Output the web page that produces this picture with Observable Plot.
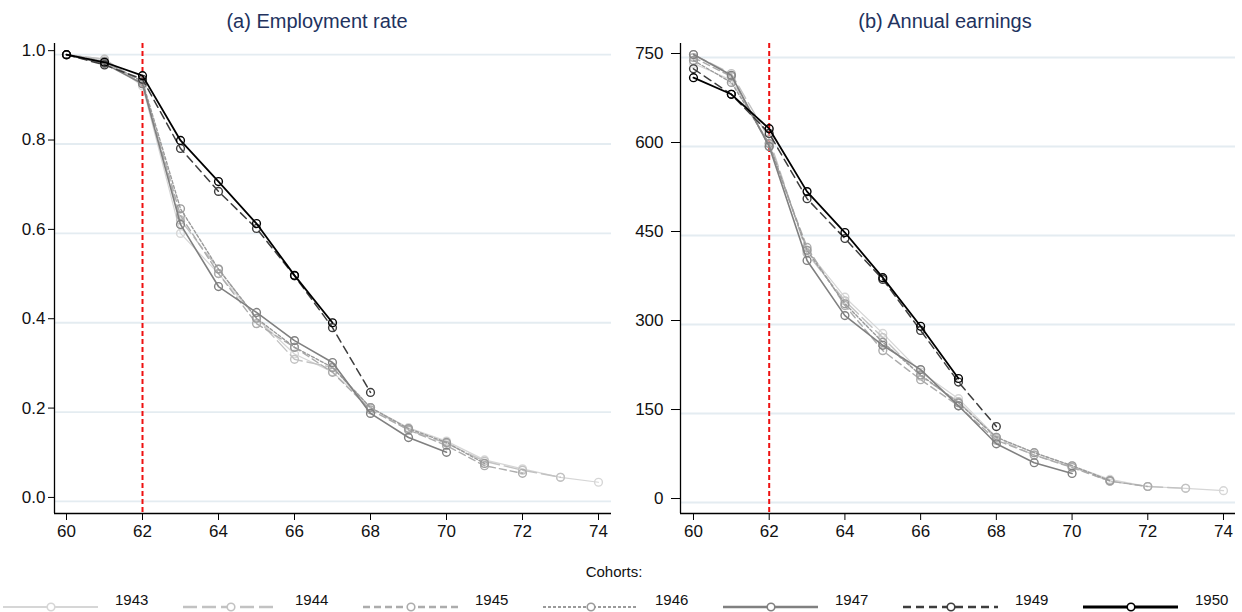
<!DOCTYPE html>
<html><head><meta charset="utf-8">
<script src="https://cdn.jsdelivr.net/npm/d3@7"></script>
<script src="https://cdn.jsdelivr.net/npm/@observablehq/plot@0.6"></script>
<style>
body{margin:0;background:#fff;font-family:"Liberation Sans",Arial,sans-serif;}
#wrap{position:relative;width:1242px;height:612px;}
.panel{position:absolute;top:0;width:621px;}
.title{position:absolute;top:9px;width:400px;font-size:20px;line-height:24px;color:#22325e;text-align:center;}
.plot{position:absolute;top:38px;left:0;}
.plot svg text{font-size:17px !important;font-family:"Liberation Sans",Arial,sans-serif !important;}
#legend{position:absolute;top:560px;left:0;width:1242px;height:52px;}
</style></head>
<body><div id="wrap">
<div class="panel" id="pa" style="left:0"></div>
<div class="panel" id="pb" style="left:621px"></div>
<div id="legend"></div>
</div>
<script>
// ---- data ----
const cohorts = ["1943","1944","1945","1946","1947","1949","1950"];
const ages = [60,61,62,63,64,65,66,67,68,69,70,71,72,73,74];
const emp1943 = [1.0,0.99,0.93,0.60,0.51,0.41,0.33,0.29,0.21,0.165,0.135,0.093,0.073,0.054,0.043];
const emp1944 = [1.0,0.99,0.935,0.63,0.52,0.41,0.318,0.30,0.21,0.16,0.13,0.09,0.07,0.054];
const emp1945 = [1.0,0.985,0.935,0.64,0.51,0.398,0.345,0.289,0.205,0.16,0.125,0.08,0.063];
const emp1946 = [1.0,0.985,0.94,0.655,0.52,0.41,0.345,0.30,0.21,0.163,0.132,0.085];
const emp1947 = [1.0,0.98,0.935,0.62,0.481,0.423,0.36,0.311,0.197,0.143,0.11];
const emp1949 = [1.0,0.977,0.945,0.79,0.694,0.611,0.505,0.389,0.244];
const emp1950 = [1.0,0.983,0.953,0.808,0.716,0.622,0.506,0.40];
const earn1943 = [740,712,605,425,346,285,220,175,110,84,62,39,27,24,20];
const earn1944 = [755,723,613,420,340,278,213,170,108,80,60,36,27,24];
const earn1945 = [750,718,600,430,332,256,207,163,105,80,59,36,27];
const earn1946 = [745,708,605,425,335,270,215,168,110,84,62,37];
const earn1947 = [755,720,600,408,315,265,224,163,99,67,49];
const earn1949 = [731,688,622,512,445,376,290,203,128];
const earn1950 = [716,688,630,524,455,379,297,209];
const empTicks = [0,0.2,0.4,0.6,0.8,1.0];
const earnTicks = [0,150,300,450,600,750];
const ageTicks = [60,62,64,66,68,70,72,74];
const reformAge = 62;

const empSeries = [emp1943,emp1944,emp1945,emp1946,emp1947,emp1949,emp1950];
const earnSeries = [earn1943,earn1944,earn1945,earn1946,earn1947,earn1949,earn1950];

// ---- styles ----
const styles = {
  "1943":{color:"#d6d6d6", w:1.2, dash:null, lw:2},
  "1944":{color:"#c2c2c2", w:1.4, dash:"14,5", lw:2.5},
  "1945":{color:"#acacac", w:1.4, dash:"7,4", lw:2.5},
  "1946":{color:"#9a9a9a", w:1.4, dash:"3,2", lw:2},
  "1947":{color:"#808080", w:1.6, dash:null, lw:2.5},
  "1949":{color:"#3d3d3d", w:1.5, dash:"8,5", lw:2.5},
  "1950":{color:"#000000", w:1.8, dash:null, lw:3}
};

function rows(series){
  return series.map((vals,i)=>vals.map((v,j)=>({cohort:cohorts[i], age:ages[j], v})));
}

function panel(el, title, series, opt){
  const data = rows(series);
  const marks = [
    Plot.gridY(opt.ticks, {stroke:"#e4ecf1", strokeOpacity:1, strokeWidth:1.8}),
    Plot.ruleX([reformAge], {stroke:"#ee1111", strokeWidth:2, strokeDasharray:"5,3"})
  ];
  data.forEach(d=>{
    const s = styles[d[0].cohort];
    marks.push(Plot.line(d, {x:"age", y:"v", stroke:s.color, strokeWidth:s.w, strokeDasharray:s.dash||undefined}));
    marks.push(Plot.dot(d, {x:"age", y:"v", r:3.9, stroke:s.color, fill:"none", strokeWidth:1.4}));
  });
  marks.push(
    Plot.axisY(opt.ticks, {label:null, tickSize:opt.tsy, tickPadding:opt.tpy, dy:-4, tickFormat:opt.fmt, stroke:"#000", color:"#111"}),
    Plot.axisX(ageTicks, {label:null, tickSize:7, tickPadding:4, tickFormat:d=>String(d), stroke:"#000", color:"#111"}),
    Plot.ruleX([opt.xdom[0]], {stroke:"#000", strokeWidth:1.3}),
    Plot.ruleY([opt.ydom[0]], {stroke:"#000", strokeWidth:1.3})
  );
  const p = Plot.plot({
    width:621, height:512,
    marginTop:5, marginBottom:37, marginLeft:opt.ml, marginRight:opt.mr,
    x:{domain:opt.xdom, label:null}, y:{domain:opt.ydom, label:null},
    style:{fontSize:"17px", fontFamily:"Liberation Sans, Arial, sans-serif", background:"#fff", overflow:"visible"},
    marks
  });
  const t = document.createElement("div");
  t.className="title"; t.textContent=title;
  t.style.left=(opt.tc-200)+"px";
  const w = document.createElement("div"); w.className="plot"; w.appendChild(p);
  el.appendChild(t); el.appendChild(w);
}

panel(document.getElementById("pa"), "(a) Employment rate", empSeries,
  {ticks:empTicks, fmt:d3.format(".1f"), ml:54, mr:10, xdom:[59.684,74.342], ydom:[-0.027,1.025], tsy:6, tpy:3, tc:317});
panel(document.getElementById("pb"), "(b) Annual earnings", earnSeries,
  {ticks:earnTicks, fmt:d=>String(d), ml:59, mr:7, xdom:[59.657,74.317], ydom:[-18.5,773.6], tsy:9, tpy:8, tc:324});

// ---- legend ----
const svg = d3.select("#legend").append("svg").attr("width",1242).attr("height",52);
svg.append("text").attr("x",614).attr("y",17).attr("text-anchor","middle")
  .attr("font-size",15).attr("font-family","Liberation Sans, Arial").attr("fill","#111").text("Cohorts:");
cohorts.forEach((c,i)=>{
  const s = styles[c], x0 = i*180, y = 47;
  svg.append("line").attr("x1",x0+3).attr("x2",x0+98).attr("y1",y).attr("y2",y)
    .attr("stroke",s.color).attr("stroke-width",s.lw).attr("stroke-dasharray",s.dash);
  svg.append("circle").attr("cx",x0+51).attr("cy",y).attr("r",3.8)
    .attr("fill","#fff").attr("stroke",s.color).attr("stroke-width",1.6);
  svg.append("text").attr("x",x0+115).attr("y",45).attr("font-size",15)
    .attr("font-family","Liberation Sans, Arial").attr("fill","#111").text(c);
});
</script>
</body></html>
